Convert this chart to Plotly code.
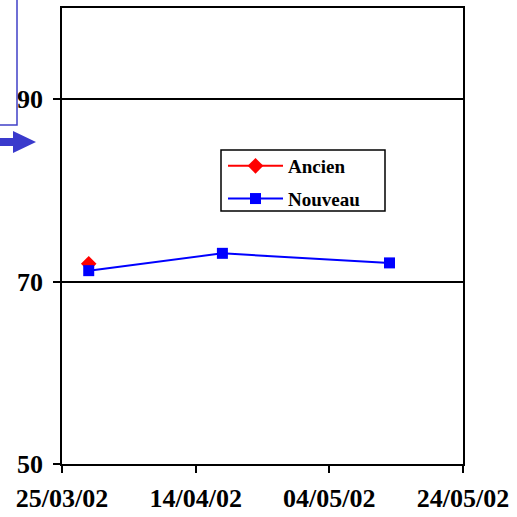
import plotly.graph_objects as go

ancien_dates = ["2002-03-29"]
ancien_vals = [71.95]
nouveau_dates = ["2002-03-29", "2002-04-18", "2002-05-13"]
nouveau_vals = [71.2, 73.1, 72.05]
x_tickvals = ["2002-03-25", "2002-04-14", "2002-05-04", "2002-05-24"]
x_ticktext = ["25/03/02", "14/04/02", "04/05/02", "24/05/02"]
y_tickvals = [50, 70, 90]

FONT = "Liberation Serif, Times New Roman, serif"

fig = go.Figure()
fig.add_trace(go.Scatter(x=ancien_dates, y=ancien_vals, name="Ancien", mode="lines+markers",
                         legendgroup="a",
                         line=dict(color="#ff0000", width=2),
                         marker=dict(symbol="diamond", size=12, color="#ff0000")))
fig.add_trace(go.Scatter(x=nouveau_dates, y=nouveau_vals, name="Nouveau", mode="lines+markers",
                         legendgroup="b",
                         line=dict(color="#0000ff", width=2),
                         marker=dict(symbol="square", size=11, color="#0000ff")))

L, R, T, B = 62, 54, 8, 53
W = H = 517
pw = W - L - R
ph = H - T - B

def px(x):
    return (x - L) / pw

def py(y):
    return 1 - (y - T) / ph

# partial annotation box and arrow on the left
fig.add_shape(type="rect", xref="paper", yref="paper",
              x0=px(-5), x1=px(17), y0=py(125), y1=py(-5),
              line=dict(color="#4040c8", width=1.5), fillcolor="rgba(0,0,0,0)")
arrow = (f"M {px(0)},{py(138)} L {px(13)},{py(138)} L {px(13)},{py(131)} "
         f"L {px(36)},{py(142)} L {px(13)},{py(153)} L {px(13)},{py(146)} L {px(0)},{py(146)} Z")
fig.add_shape(type="path", xref="paper", yref="paper", path=arrow,
              line=dict(color="#3a3acc", width=0), fillcolor="#3a3acc")
# legend frame
fig.add_shape(type="rect", xref="paper", yref="paper",
              x0=px(221), x1=px(385), y0=py(211), y1=py(150),
              line=dict(color="black", width=1.5), fillcolor="white", layer="above")

fig.update_layout(
    width=W, height=H,
    margin=dict(l=L, r=R, t=T, b=B),
    plot_bgcolor="white", paper_bgcolor="white",
    font=dict(family=FONT, size=17, color="black"),
    showlegend=True,
    legend=dict(x=px(223), y=py(147), xanchor="left", yanchor="top",
                bgcolor="rgba(0,0,0,0)", borderwidth=0,
                font=dict(family=FONT, size=19, color="black", weight="bold"),
                itemwidth=55, tracegroupgap=5, traceorder="grouped"),
    xaxis=dict(type="date", range=["2002-03-25", "2002-05-24"],
               tickvals=x_tickvals, ticktext=x_ticktext,
               tickfont=dict(family=FONT, size=26, weight="bold"),
               ticks="outside", ticklen=7, tickcolor="black", tickwidth=1.5,
               ticklabelstandoff=3, automargin=False,
               showgrid=False, zeroline=False,
               showline=True, linecolor="black", linewidth=1.5, mirror=True),
    yaxis=dict(range=[50, 100], tickvals=y_tickvals,
               tickfont=dict(family=FONT, size=26, weight="bold"),
               ticks="outside", ticklen=7, tickcolor="black", tickwidth=1.5,
               ticklabelstandoff=5, automargin=False,
               showgrid=True, gridcolor="black", gridwidth=1.5, zeroline=False,
               showline=True, linecolor="black", linewidth=1.5, mirror=True),
)

fig.write_html("out.html")
